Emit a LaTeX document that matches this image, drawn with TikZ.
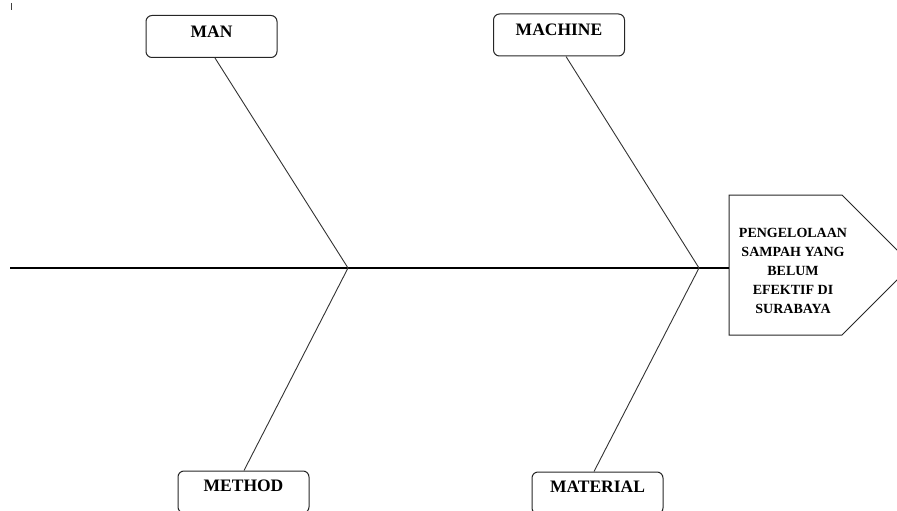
\documentclass[tikz,border=0pt]{standalone}
\usepackage{fontspec}
\setmainfont{Liberation Serif}
\begin{document}
\begin{tikzpicture}[x=1pt,y=-1pt,
  bone/.style={draw=black!80, line width=0.9pt},
  spine/.style={draw=black, line width=1.2pt},
  topbox/.style={draw=black!85, line width=1pt, rounded corners=6pt, minimum width=131pt, minimum height=42pt, inner sep=0pt, text height=12pt, text depth=10pt, font=\bfseries\fontsize{17.5}{20}\selectfont},
  botbox/.style={draw=black!85, line width=1pt, rounded corners=6pt, minimum width=131pt, minimum height=42pt, inner sep=0pt, text height=12pt, text depth=14pt, font=\bfseries\fontsize{17.5}{20}\selectfont},
  headtext/.style={align=center, inner sep=0pt, font=\bfseries\fontsize{14}{19}\selectfont}
]
\useasboundingbox (0,0) rectangle (897,511);
\clip (0,0) rectangle (897,511);
% tiny mark
\coordinate (m1) at (11.5,3);
\coordinate (m2) at (11.5,10);
\draw[line width=1.3pt, black!75] (m1) -- (m2);
% boxes
\node[topbox] (man) at (211.5,36.5) {MAN};
\node[topbox] (machine) at (559,35) {MACHINE};
\node[botbox] (method) at (243.5,492) {METHOD};
\node[botbox] (material) at (597.5,493) {MATERIAL};
% head
\coordinate (h1) at (729,195);
\coordinate (h2) at (842,195);
\coordinate (h3) at (912,265);
\coordinate (h4) at (842,335);
\coordinate (h5) at (729,335);
\draw[draw=black!85, line width=1pt] (h1) -- (h2) -- (h3) -- (h4) -- (h5) -- cycle;
\node[headtext] (head) at (793,270.5) {PENGELOLAAN\\SAMPAH YANG\\BELUM\\EFEKTIF DI\\SURABAYA};
% spine
\coordinate (s0) at (10,268);
\coordinate (j1) at (348,268);
\coordinate (j2) at (699,268);
\coordinate (s1) at (729,268);
\draw[spine] (s0) -- (s1);
% bones
\draw[bone] ([xshift=3.5pt]man.south) -- (j1) -- ([xshift=0.5pt]method.north);
\draw[bone] ([xshift=7pt]machine.south) -- (j2) -- ([xshift=-3.5pt]material.north);
\end{tikzpicture}
\end{document}
